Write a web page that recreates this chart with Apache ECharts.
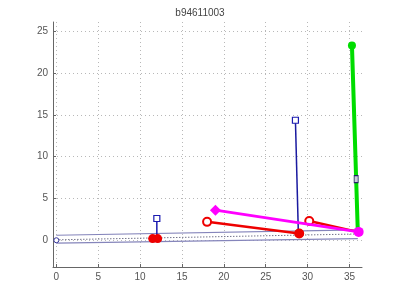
<!DOCTYPE html>
<html><head><meta charset="utf-8">
<script src="https://cdn.jsdelivr.net/npm/echarts@6/dist/echarts.min.js"></script>
<style>html,body{margin:0;padding:0;background:#fff}#c{width:400px;height:300px}</style>
</head><body><div id="c"></div>
<script>
const titleText = 'b94611003';
const xTicks = [0, 5, 10, 15, 20, 25, 30, 35];
const yTicks = [0, 5, 10, 15, 20, 25];

const bandUpper = [[0, 0.6], [36, 1.25]];
const bandLower = [[0, -0.35], [36, 0.2]];
const bandCenter = [[0, 0.05], [36, 0.75]];
const originPoint = [[0, 0]];
const stemA = [[12, 0.25], [12, 2.6]];
const stemB = [[28.9, 0.85], [28.55, 14.35]];
const greenSquare = [[35.8, 7.3]];
const redBlob = [[11.5, 0.2], [12.1, 0.2]];
const redLine1 = [[18, 2.2], [29, 0.8]];
const redLine2 = [[30.2, 2.3], [36, 1.0]];
const magentaLine = [[19, 3.6], [36.1, 1.0]];
const greenLine = [[35.3, 23.3], [36, 1.0]];

const chart = echarts.init(document.getElementById('c'), null, {renderer: 'canvas'});
const labelStyle = {color: '#555', fontSize: 10, fontFamily: 'Liberation Sans'};
function perPoint(list) {
  return function (v, p) { return list[p.dataIndex]; };
}
function line(data, color, width, opts) {
  return Object.assign({
    type: 'line', data: data, silent: true, animation: false,
    lineStyle: {color: color, width: width},
    itemStyle: {color: color},
    symbol: 'none', z: 3
  }, opts || {});
}
chart.setOption({
  animation: false,
  title: {text: titleText, left: 'center', top: 3,
    textStyle: {fontSize: 10, fontWeight: 'normal', color: '#444', fontFamily: 'Liberation Sans'}},
  grid: {left: 53, right: 38, top: 22, bottom: 33},
  xAxis: {type: 'value', min: -0.4, max: 36.5,
    axisLine: {show: true, onZero: false, lineStyle: {color: '#666'}},
    axisTick: {show: true, inside: true, length: 3, customValues: xTicks, lineStyle: {color: '#666'}},
    axisLabel: {customValues: xTicks, margin: 5, ...labelStyle},
    splitLine: {show: true, lineStyle: {color: '#b8b8b8', type: [1, 3], width: 1}}
  },
  yAxis: {type: 'value', min: -3.2, max: 26.1,
    axisLine: {show: true, onZero: false, lineStyle: {color: '#666'}},
    axisTick: {show: true, inside: true, length: 3, customValues: yTicks, lineStyle: {color: '#666'}},
    axisLabel: {customValues: yTicks, margin: 5, ...labelStyle},
    splitLine: {show: true, lineStyle: {color: '#b8b8b8', type: [1, 3], width: 1}}
  },
  series: [
    line(bandUpper, '#8585bb', 1.2),
    line(bandLower, '#8585bb', 1.2),
    line(bandCenter, '#333355', 1, {lineStyle: {color: '#333355', width: 1, type: [1, 2]}}),
    line(originPoint, '#333399', 1, {symbol: 'circle', symbolSize: 5, showSymbol: true,
      itemStyle: {color: '#fff', borderColor: '#333399', borderWidth: 1}}),
    line(stemA, '#1a1ab0', 1.5, {symbol: perPoint(['none', 'rect']), symbolSize: 6, showSymbol: true,
      itemStyle: {color: '#fff', borderColor: '#1a1ab0', borderWidth: 1.2}}),
    line(stemB, '#1a1aa0', 1.5, {symbol: perPoint(['none', 'rect']), symbolSize: 6, showSymbol: true,
      itemStyle: {color: '#fff', borderColor: '#1a1ab0', borderWidth: 1.2}}),
    line(redBlob, '#ee0000', 3, {symbol: 'circle', symbolSize: 9, showSymbol: true, z: 4}),
    line(redLine1, '#ee0000', 2.5, {symbol: 'circle', symbolSize: 8, showSymbol: true, z: 4,
      itemStyle: {color: '#fff', borderColor: '#ee0000', borderWidth: 2}}),
    line(redLine1.slice(1), '#ee0000', 1, {symbol: 'circle', symbolSize: 9, showSymbol: true, z: 4}),
    line(redLine2, '#ee0000', 2.5, {symbol: perPoint(['circle', 'none']), symbolSize: 8, showSymbol: true, z: 4,
      itemStyle: {color: '#fff', borderColor: '#ee0000', borderWidth: 2}}),
    line(magentaLine, '#ff00ff', 3, {symbol: perPoint(['diamond', 'circle']), symbolSize: perPoint([11, 10]), showSymbol: true, z: 5}),
    line(greenLine, '#00dd00', 4, {symbol: perPoint(['circle', 'none']), symbolSize: 8, showSymbol: true, z: 4}),
    line(greenSquare, '#222266', 1, {symbol: 'rect', symbolSize: [4, 7], showSymbol: true, z: 6,
      itemStyle: {color: '#ccd', borderColor: '#222266', borderWidth: 1}})
  ]
});
</script></body></html>
